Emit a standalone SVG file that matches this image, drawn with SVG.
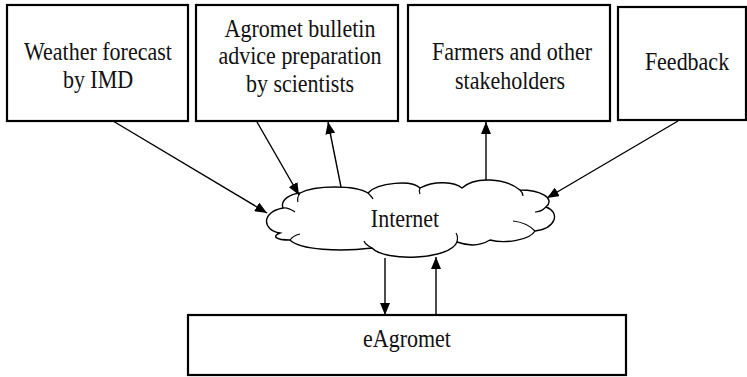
<svg xmlns="http://www.w3.org/2000/svg" width="747" height="377" viewBox="0 0 747 377">
<defs>
<marker id="ah" viewBox="0 0 12 10" refX="12" refY="5" markerWidth="12" markerHeight="10" markerUnits="userSpaceOnUse" orient="auto">
<path d="M0,0 L12,5 L0,10 Z" fill="#000"/>
</marker>
<style>
.box{fill:#fff;stroke:#000;stroke-width:2.2}
.t{font-family:'Liberation Serif',Tinos,'Times New Roman',serif;font-size:25px;fill:#111;text-anchor:middle}
.c{stroke:#000;stroke-width:1.4;fill:none;marker-end:url(#ah)}
.cl{fill:#fff;stroke:#000;stroke-width:1.4}
.in{fill:none;stroke:#000;stroke-width:1.2}
</style>
</defs>
<rect width="747" height="377" fill="#fff"/>
<g id="weather">
<rect class="box" x="7" y="5" width="181" height="116"/>
<text class="t" transform="translate(98,60) scale(0.88,1)">Weather forecast</text>
<text class="t" transform="translate(98,88) scale(0.88,1)">by IMD</text>
</g>
<g id="agromet">
<rect class="box" x="196" y="5" width="202" height="116"/>
<text class="t" transform="translate(300,37) scale(0.88,1)">Agromet bulletin</text>
<text class="t" transform="translate(300,64) scale(0.88,1)">advice preparation</text>
<text class="t" transform="translate(300,92) scale(0.88,1)">by scientists</text>
</g>
<g id="farmers">
<rect class="box" x="408" y="5" width="202" height="116"/>
<text class="t" transform="translate(512,60) scale(0.88,1)">Farmers and other</text>
<text class="t" transform="translate(510,89) scale(0.88,1)">stakeholders</text>
</g>
<g id="feedback">
<rect class="box" x="618" y="7" width="128" height="113"/>
<text class="t" transform="translate(687,70) scale(0.88,1)">Feedback</text>
</g>
<g id="internet">
<path class="cl" d="M280,233 C262,230 261,212 283,208 C280,200 290,194 300,193 C315,185 355,185 368,193 C378,182 412,180 420,188 C435,180 455,182 462,188 C475,176 505,178 520,190 C540,190 556,198 546,207 C560,212 557,228 535,231 C530,240 505,244 490,240 C480,246 468,246 457,242 C450,260 385,262 372,248 C340,252 300,250 290,240 C275,240 272,236 280,233 Z"/>
<path class="in" d="M283,208 C288,207 292,210 295,212"/>
<path class="in" d="M300,193 C298,196 297,199 298,202"/>
<path class="in" d="M368,193 C370,195 372,197 373,199"/>
<path class="in" d="M420,188 C419,190 419,192 420,194"/>
<path class="in" d="M520,190 C522,192 523,194 523,196"/>
<path class="in" d="M546,207 C543,210 539,212 535,212"/>
<path class="in" d="M535,231 C530,226 523,222 513,221"/>
<path class="in" d="M457,242 C458,238 458,236 456,233"/>
<path class="in" d="M372,248 C368,246 365,244 364,241"/>
<path class="in" d="M290,240 C292,237 296,235 300,234"/>
<text class="t" transform="translate(405,227) scale(0.88,1)">Internet</text>
</g>
<g id="eagromet">
<rect class="box" x="188" y="315" width="438" height="60"/>
<text class="t" transform="translate(407,347) scale(0.88,1)">eAgromet</text>
</g>
<g id="connectors">
<line class="c" x1="113" y1="121" x2="267" y2="213"/>
<line class="c" x1="257" y1="122" x2="299" y2="195"/>
<line class="c" x1="341" y1="187" x2="328" y2="122"/>
<line class="c" x1="486" y1="180" x2="486" y2="122"/>
<line class="c" x1="678" y1="121" x2="547" y2="198"/>
<line class="c" x1="385" y1="258" x2="385" y2="315"/>
<line class="c" x1="436" y1="315" x2="436" y2="257"/>
</g>
</svg>
